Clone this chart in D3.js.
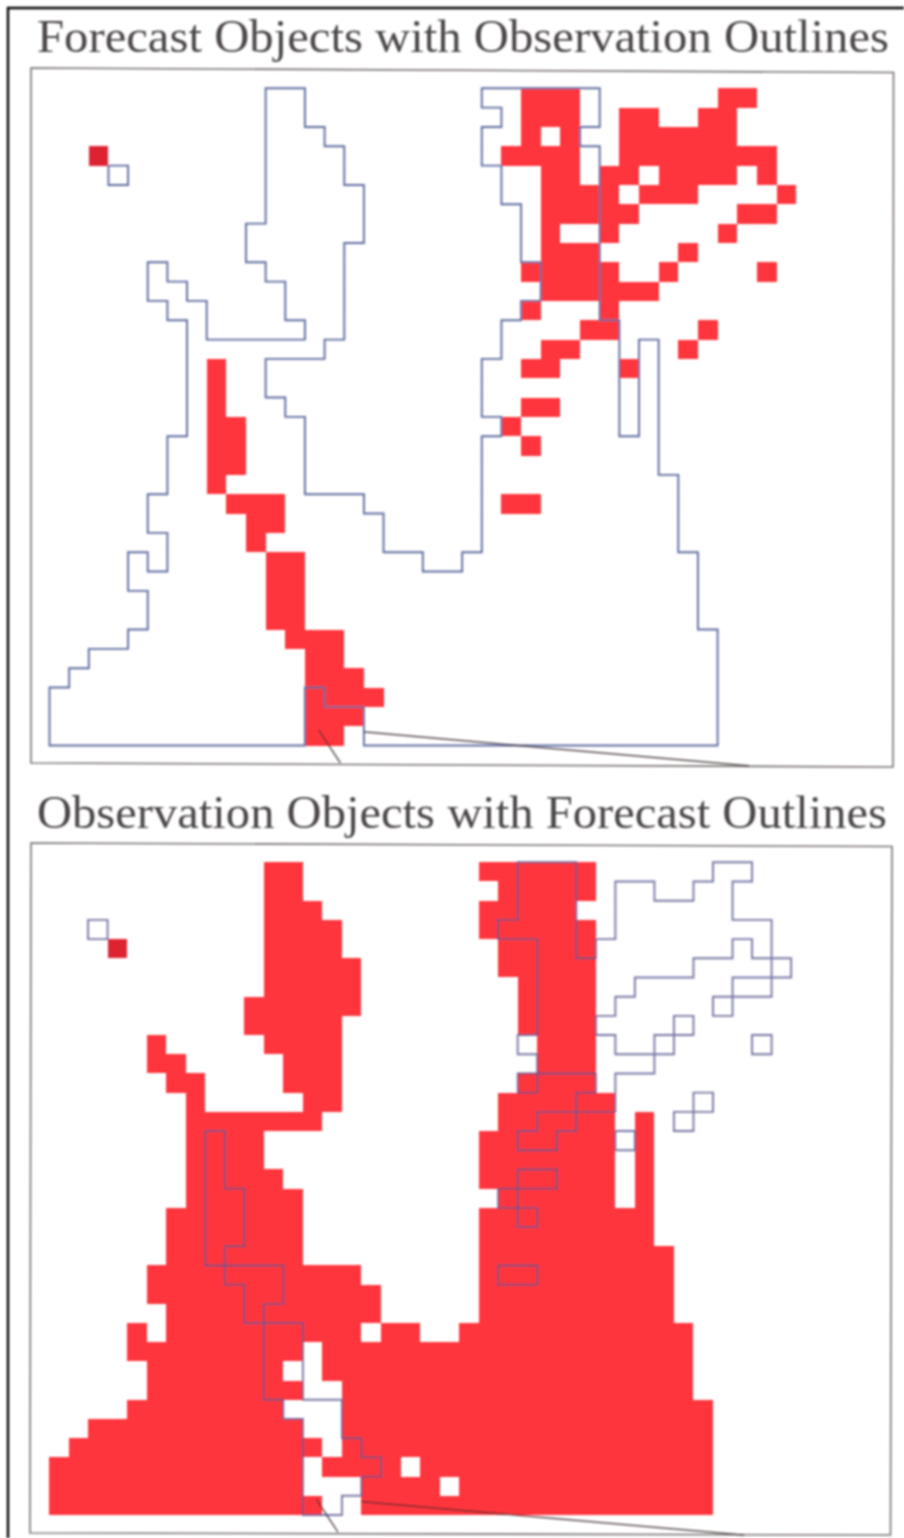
<!DOCTYPE html>
<html>
<head>
<meta charset="utf-8">
<script src="https://cdn.jsdelivr.net/npm/d3@7"></script>
<style>
  html, body { margin: 0; padding: 0; background: #fff; }
  svg { display: block; }
  .title { font-family: "Liberation Serif", serif; fill: #4b4647; }
</style>
</head>
<body>
<div id="svg_div"></div>
<script>
// spans of grid columns per grid row, row 0 on top
var forecastRows = [
  [[24,26],[34,35]],
  [[24,26],[29,30],[33,34]],
  [[24,26],[29,34]],
  [[2,2],[23,26],[29,36]],
  [[25,26],[28,34],[36,36]],
  [[25,32],[37,37]],
  [[25,29],[35,36]],
  [[25,28],[34,34]],
  [[25,27],[32,32]],
  [[24,28],[31,31],[36,36]],
  [[25,30]],
  [[24,24],[28,28]],
  [[27,28],[33,33]],
  [[25,26],[32,32]],
  [[8,8],[24,25],[29,29]],
  [[8,8]],
  [[8,8],[24,25]],
  [[8,9],[23,23]],
  [[8,9],[24,24]],
  [[8,9]],
  [[8,8]],
  [[9,11],[23,24]],
  [[10,11]],
  [[10,10]],
  [[11,12]],
  [[11,12]],
  [[11,12]],
  [[11,12]],
  [[12,14]],
  [[13,14]],
  [[13,15]],
  [[13,16]],
  [[13,15]],
  [[13,14]]
];
var observationRows = [
  [[11,12],[22,27]],
  [[11,12],[23,27]],
  [[11,13],[22,26]],
  [[11,14],[22,27]],
  [[3,3],[11,14],[23,27]],
  [[11,15],[23,27]],
  [[11,15],[24,27]],
  [[10,15],[24,27]],
  [[10,14],[24,27]],
  [[5,5],[11,14],[25,27]],
  [[5,6],[12,14],[25,27]],
  [[6,7],[12,14],[24,27]],
  [[7,7],[13,14],[23,28]],
  [[7,13],[23,28],[30,30]],
  [[7,10],[22,28],[30,30]],
  [[7,10],[22,28],[30,30]],
  [[7,11],[22,28],[30,30]],
  [[7,12],[23,28],[30,30]],
  [[6,12],[22,30]],
  [[6,12],[22,30]],
  [[6,12],[22,31]],
  [[5,15],[22,31]],
  [[5,16],[22,31]],
  [[6,16],[22,31]],
  [[4,4],[6,18],[21,32]],
  [[4,32]],
  [[5,32]],
  [[5,32]],
  [[4,33]],
  [[2,33]],
  [[1,33]],
  [[0,12],[14,33]],
  [[0,12],[16,33]],
  [[0,12],[16,33]]
];
// cells left white inside an object, the outline does not follow them
var forecastHoles = [[25,2],[30,4],[29,5],[26,7],[27,7]];
var observationHoles = [[16,24],[13,25],[12,26],[13,26],[13,27],[14,27],[12,28],[13,28],[14,28],[13,29],[14,29],[14,30],[18,31],[20,32]];
// loose cells filled but not part of the outline
var observationSpecks = [[13,33]];
var forecastDark = [[2,3]];
var observationDark = [[3,4]];
// the two thin leader lines at the bottom of each panel
var leaderLines = [
  [[13.7,33.2],[14.8,34.9]],
  [[16,33.3],[35.6,35.05]]
];
var titles = ["Forecast Objects with Observation Outlines", "Observation Objects with Forecast Outlines"];

var w = 904, h = 1538;

var svg = d3.select("#svg_div").append("svg")
    .attr("width", w)
    .attr("height", h);

var defs = svg.append("defs");
defs.append("filter")
    .attr("id", "scan")
    .attr("filterUnits", "userSpaceOnUse")
    .attr("x", 0).attr("y", 0).attr("width", w).attr("height", h)
  .append("feGaussianBlur")
    .attr("stdDeviation", 0.8);

var vis = svg.append("g").attr("filter", "url(#scan)");

// page border of the scan
vis.append("path")
    .attr("d", "M8,1538V8H904")
    .attr("fill", "none")
    .attr("stroke", "#000")
    .attr("stroke-width", 2.4);

function expand(rows) {
  return rows.flatMap(function(spans, r) {
    return spans.flatMap(function(s) {
      return d3.range(s[0], s[1] + 1).map(function(c) { return [c, r]; });
    });
  });
}

function key(c) { return c[0] + "," + c[1]; }

function outlinePath(cells, x, y) {
  var set = new Set(cells.map(key)), d = "";
  cells.forEach(function(c) {
    var i = c[0], j = c[1];
    if (!set.has((i) + "," + (j - 1))) d += "M" + x(i) + "," + y(j) + "L" + x(i + 1) + "," + y(j);
    if (!set.has((i) + "," + (j + 1))) d += "M" + x(i) + "," + y(j + 1) + "L" + x(i + 1) + "," + y(j + 1);
    if (!set.has((i - 1) + "," + (j))) d += "M" + x(i) + "," + y(j) + "L" + x(i) + "," + y(j + 1);
    if (!set.has((i + 1) + "," + (j))) d += "M" + x(i + 1) + "," + y(j) + "L" + x(i + 1) + "," + y(j + 1);
  });
  return d;
}

function panel(opt) {
  var x = d3.scaleLinear().domain([0, 34]).range(opt.xRange),
      y = d3.scaleLinear().domain([0, 34]).range(opt.yRange);

  var g = vis.append("g");

  g.append("text")
      .attr("class", "title")
      .attr("x", opt.titleX)
      .attr("y", opt.titleY)
      .attr("font-size", 46)
      .attr("textLength", opt.titleW)
      .attr("lengthAdjust", "spacingAndGlyphs")
      .text(opt.title);

  g.append("path")
      .attr("d", opt.frame)
      .attr("fill", "none")
      .attr("stroke", "#77716f")
      .attr("stroke-width", 1.6);

  var holes = new Set(opt.holes.map(key)),
      dark = new Set(opt.dark.map(key));
  var fills = expand(opt.fillRows).filter(function(c) { return !holes.has(key(c)); }).concat(opt.specks);

  g.append("g").selectAll("rect")
      .data(fills)
    .enter().append("rect")
      .attr("x", function(d) { return x(d[0]); })
      .attr("y", function(d) { return y(d[1]); })
      .attr("width", function(d) { return x(d[0] + 1) - x(d[0]); })
      .attr("height", function(d) { return y(d[1] + 1) - y(d[1]); })
      .attr("shape-rendering", "crispEdges")
      .attr("fill", function(d) { return dark.has(key(d)) ? "#dd2030" : "#ff353c"; });

  g.append("path")
      .attr("d", outlinePath(expand(opt.lineRows), x, y))
      .attr("fill", "none")
      .attr("stroke", opt.lineColor)
      .attr("stroke-opacity", opt.lineOpacity)
      .attr("stroke-width", 1.9)
      .attr("stroke-linecap", "square");

  g.append("g").selectAll("line")
      .data(leaderLines)
    .enter().append("line")
      .attr("x1", function(d) { return x(d[0][0]); })
      .attr("y1", function(d) { return y(d[0][1]); })
      .attr("x2", function(d) { return x(d[1][0]); })
      .attr("y2", function(d) { return y(d[1][1]); })
      .attr("stroke", "#3a2a2e")
      .attr("stroke-width", 1.2);
}

panel({
  title: titles[0], titleX: 37, titleY: 52, titleW: 852,
  frame: "M31,68L893.5,72.5L893,767L31,763Z",
  xRange: [49.5, 717.6], yRange: [88.3, 745.5],
  fillRows: forecastRows, holes: forecastHoles, specks: [], dark: forecastDark,
  lineRows: observationRows, lineColor: "#5f6c9f", lineOpacity: 1
});

panel({
  title: titles[1], titleX: 37, titleY: 828, titleW: 850,
  frame: "M31,843L892,846.5L890.5,1535L30,1533Z",
  xRange: [49, 713], yRange: [862.3, 1515],
  fillRows: observationRows, holes: observationHoles, specks: observationSpecks, dark: observationDark,
  lineRows: forecastRows, lineColor: "#56568f", lineOpacity: 0.8
});
</script>
</body>
</html>
